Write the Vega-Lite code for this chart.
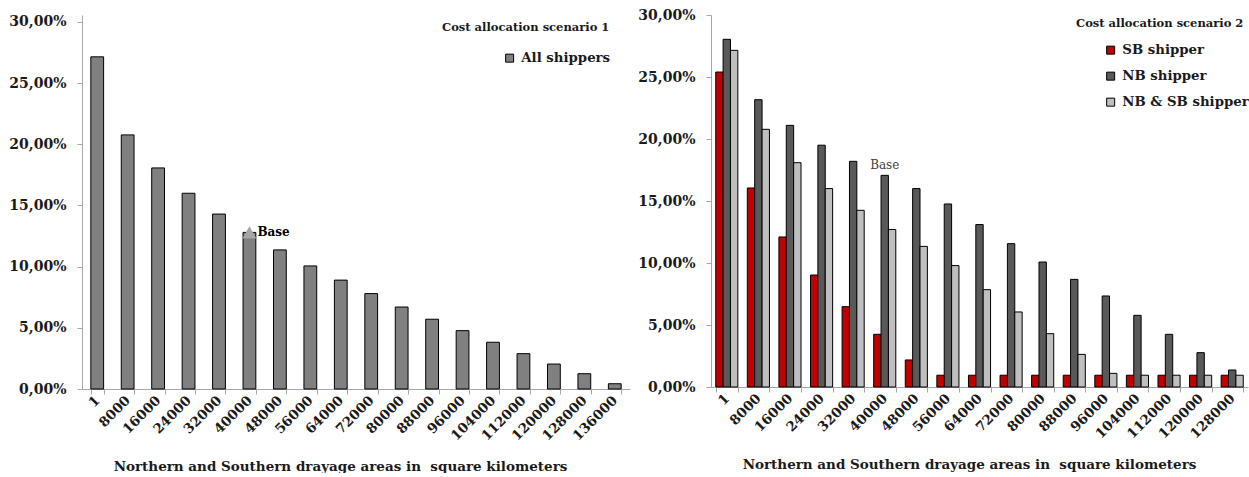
{
  "$schema": "https://vega.github.io/schema/vega-lite/v6.json",
  "padding": {"left": 8, "top": 8, "right": 0, "bottom": 0},
  "background": "white",
  "bounds": "flush",
  "spacing": 81,
  "config": {
    "font": "DejaVu Serif",
    "view": {"stroke": null},
    "axis": {
      "grid": false,
      "domainColor": "#a6a6a6",
      "tickColor": "#a6a6a6",
      "tickSize": 5,
      "labelFont": "DejaVu Serif",
      "labelFontWeight": "bold",
      "labelColor": "#1a1a1a",
      "titleFont": "DejaVu Serif",
      "titleFontWeight": "bold",
      "titleColor": "#1a1a1a"
    },
    "axisX": {
      "tickBand": "extent",
      "labelAngle": -45,
      "labelAlign": "right",
      "labelBaseline": "middle",
      "labelFontSize": 13.5,
      "labelPadding": 4,
      "titleFontSize": 13.5,
      "titlePadding": 17,
      "titleX": 258
    },
    "axisY": {
      "labelFontSize": 14,
      "labelPadding": 11,
      "labelExpr": "replace(format(datum.value,'.2f'),'.',',')+'%'",
      "title": null
    },
    "legend": {
      "orient": "none",
      "padding": 0,
      "titleFont": "DejaVu Serif",
      "titleFontSize": 11.5,
      "titleFontWeight": "bold",
      "titleColor": "#1a1a1a",
      "labelFont": "DejaVu Serif",
      "labelFontWeight": "bold",
      "labelFontSize": 13.3,
      "labelColor": "#1a1a1a",
      "labelOffset": 5,
      "symbolType": "square",
      "symbolSize": 64,
      "symbolStrokeColor": "black",
      "symbolStrokeWidth": 1,
      "rowPadding": 12
    }
  },
  "resolve": {
    "scale": {"fill": "independent", "x": "independent", "y": "independent"},
    "legend": {"fill": "independent"}
  },
  "hconcat": [
    {
      "width": 548,
      "height": 374,
      "layer": [
        {
          "data": {
            "values": [
              {"area": "1", "value": 27.15, "series": "All shippers"},
              {"area": "8000", "value": 20.77, "series": "All shippers"},
              {"area": "16000", "value": 18.07, "series": "All shippers"},
              {"area": "24000", "value": 16.0, "series": "All shippers"},
              {"area": "32000", "value": 14.3, "series": "All shippers"},
              {"area": "40000", "value": 12.8, "series": "All shippers"},
              {"area": "48000", "value": 11.37, "series": "All shippers"},
              {"area": "56000", "value": 10.06, "series": "All shippers"},
              {"area": "64000", "value": 8.9, "series": "All shippers"},
              {"area": "72000", "value": 7.8, "series": "All shippers"},
              {"area": "80000", "value": 6.7, "series": "All shippers"},
              {"area": "88000", "value": 5.7, "series": "All shippers"},
              {"area": "96000", "value": 4.77, "series": "All shippers"},
              {"area": "104000", "value": 3.82, "series": "All shippers"},
              {"area": "112000", "value": 2.89, "series": "All shippers"},
              {"area": "120000", "value": 2.04, "series": "All shippers"},
              {"area": "128000", "value": 1.25, "series": "All shippers"},
              {"area": "136000", "value": 0.43, "series": "All shippers"}
            ]
          },
          "mark": {"type": "bar", "stroke": "black", "strokeWidth": 1},
          "encoding": {
            "x": {
              "field": "area", "type": "nominal", "sort": null,
              "scale": {"paddingInner": 0.58, "paddingOuter": 0.29},
              "axis": {"title": "Northern and Southern drayage areas in \u00a0square kilometers"}
            },
            "y": {
              "field": "value", "type": "quantitative",
              "scale": {"domain": [0, 30.57], "nice": false},
              "axis": {"values": [0, 5, 10, 15, 20, 25, 30]}
            },
            "fill": {
              "field": "series", "type": "nominal",
              "scale": {"domain": ["All shippers"], "range": ["#808080"]},
              "legend": {
                "title": "Cost allocation scenario 1",
                "legendX": 360, "legendY": 7,
                "titlePadding": 18,
                "symbolOffset": 61
              }
            }
          }
        },
        {
          "data": {"values": [{"area": "40000", "value": 12.8, "label": "Base"}]},
          "mark": {"type": "point", "shape": "triangle-up", "filled": true, "color": "#a6a6a6", "size": 200, "opacity": 1},
          "encoding": {
            "x": {"field": "area", "type": "nominal", "sort": null},
            "y": {"field": "value", "type": "quantitative"}
          }
        },
        {
          "data": {"values": [{"area": "40000", "value": 12.8, "label": "Base"}]},
          "mark": {"type": "text", "align": "left", "dx": 8, "baseline": "middle", "fontWeight": "bold", "fontSize": 12, "color": "#000000"},
          "encoding": {
            "x": {"field": "area", "type": "nominal", "sort": null},
            "y": {"field": "value", "type": "quantitative"},
            "text": {"field": "label"}
          }
        }
      ]
    },
    {
      "width": 537,
      "height": 372,
      "layer": [
        {
          "data": {
            "values": [
              {"area": "1", "series": "SB shipper", "value": 25.4},
              {"area": "1", "series": "NB shipper", "value": 28.04},
              {"area": "1", "series": "NB & SB shipper", "value": 27.15},
              {"area": "8000", "series": "SB shipper", "value": 16.05},
              {"area": "8000", "series": "NB shipper", "value": 23.17},
              {"area": "8000", "series": "NB & SB shipper", "value": 20.78},
              {"area": "16000", "series": "SB shipper", "value": 12.1},
              {"area": "16000", "series": "NB shipper", "value": 21.1},
              {"area": "16000", "series": "NB & SB shipper", "value": 18.09},
              {"area": "24000", "series": "SB shipper", "value": 9.03},
              {"area": "24000", "series": "NB shipper", "value": 19.5},
              {"area": "24000", "series": "NB & SB shipper", "value": 16.0},
              {"area": "32000", "series": "SB shipper", "value": 6.48},
              {"area": "32000", "series": "NB shipper", "value": 18.2},
              {"area": "32000", "series": "NB & SB shipper", "value": 14.25},
              {"area": "40000", "series": "SB shipper", "value": 4.25},
              {"area": "40000", "series": "NB shipper", "value": 17.07},
              {"area": "40000", "series": "NB & SB shipper", "value": 12.7},
              {"area": "48000", "series": "SB shipper", "value": 2.18},
              {"area": "48000", "series": "NB shipper", "value": 16.0},
              {"area": "48000", "series": "NB & SB shipper", "value": 11.34},
              {"area": "56000", "series": "SB shipper", "value": 0.95},
              {"area": "56000", "series": "NB shipper", "value": 14.76},
              {"area": "56000", "series": "NB & SB shipper", "value": 9.79},
              {"area": "64000", "series": "SB shipper", "value": 0.95},
              {"area": "64000", "series": "NB shipper", "value": 13.1},
              {"area": "64000", "series": "NB & SB shipper", "value": 7.85},
              {"area": "72000", "series": "SB shipper", "value": 0.95},
              {"area": "72000", "series": "NB shipper", "value": 11.56},
              {"area": "72000", "series": "NB & SB shipper", "value": 6.05},
              {"area": "80000", "series": "SB shipper", "value": 0.95},
              {"area": "80000", "series": "NB shipper", "value": 10.08},
              {"area": "80000", "series": "NB & SB shipper", "value": 4.3},
              {"area": "88000", "series": "SB shipper", "value": 0.95},
              {"area": "88000", "series": "NB shipper", "value": 8.68},
              {"area": "88000", "series": "NB & SB shipper", "value": 2.63},
              {"area": "96000", "series": "SB shipper", "value": 0.95},
              {"area": "96000", "series": "NB shipper", "value": 7.34},
              {"area": "96000", "series": "NB & SB shipper", "value": 1.1},
              {"area": "104000", "series": "SB shipper", "value": 0.95},
              {"area": "104000", "series": "NB shipper", "value": 5.78},
              {"area": "104000", "series": "NB & SB shipper", "value": 0.95},
              {"area": "112000", "series": "SB shipper", "value": 0.95},
              {"area": "112000", "series": "NB shipper", "value": 4.25},
              {"area": "112000", "series": "NB & SB shipper", "value": 0.95},
              {"area": "120000", "series": "SB shipper", "value": 0.95},
              {"area": "120000", "series": "NB shipper", "value": 2.77},
              {"area": "120000", "series": "NB & SB shipper", "value": 0.95},
              {"area": "128000", "series": "SB shipper", "value": 0.95},
              {"area": "128000", "series": "NB shipper", "value": 1.37},
              {"area": "128000", "series": "NB & SB shipper", "value": 0.95}
            ]
          },
          "mark": {"type": "bar", "stroke": "black", "strokeWidth": 1},
          "encoding": {
            "x": {
              "field": "area", "type": "nominal", "sort": null,
              "scale": {"paddingInner": 0.3, "paddingOuter": 0.15},
              "axis": {"title": "Northern and Southern drayage areas in \u00a0square kilometers"}
            },
            "xOffset": {
              "field": "series", "type": "nominal",
              "sort": ["SB shipper", "NB shipper", "NB & SB shipper"]
            },
            "y": {
              "field": "value", "type": "quantitative",
              "scale": {"domain": [0, 30], "nice": false},
              "axis": {"values": [0, 5, 10, 15, 20, 25, 30]}
            },
            "fill": {
              "field": "series", "type": "nominal",
              "scale": {"domain": ["SB shipper", "NB shipper", "NB & SB shipper"], "range": ["#c00000", "#595959", "#bfbfbf"]},
              "legend": {
                "title": "Cost allocation scenario 2",
                "legendX": 365, "legendY": 3,
                "titlePadding": 14,
                "symbolOffset": 28
              }
            }
          }
        },
        {
          "data": {"values": [{"area": "40000", "value": 17.07, "label": "Base"}]},
          "mark": {"type": "text", "align": "center", "baseline": "bottom", "dy": -3, "fontSize": 12, "color": "#404040"},
          "encoding": {
            "x": {"field": "area", "type": "nominal", "sort": null},
            "y": {"field": "value", "type": "quantitative"},
            "text": {"field": "label"}
          }
        }
      ]
    }
  ]
}
